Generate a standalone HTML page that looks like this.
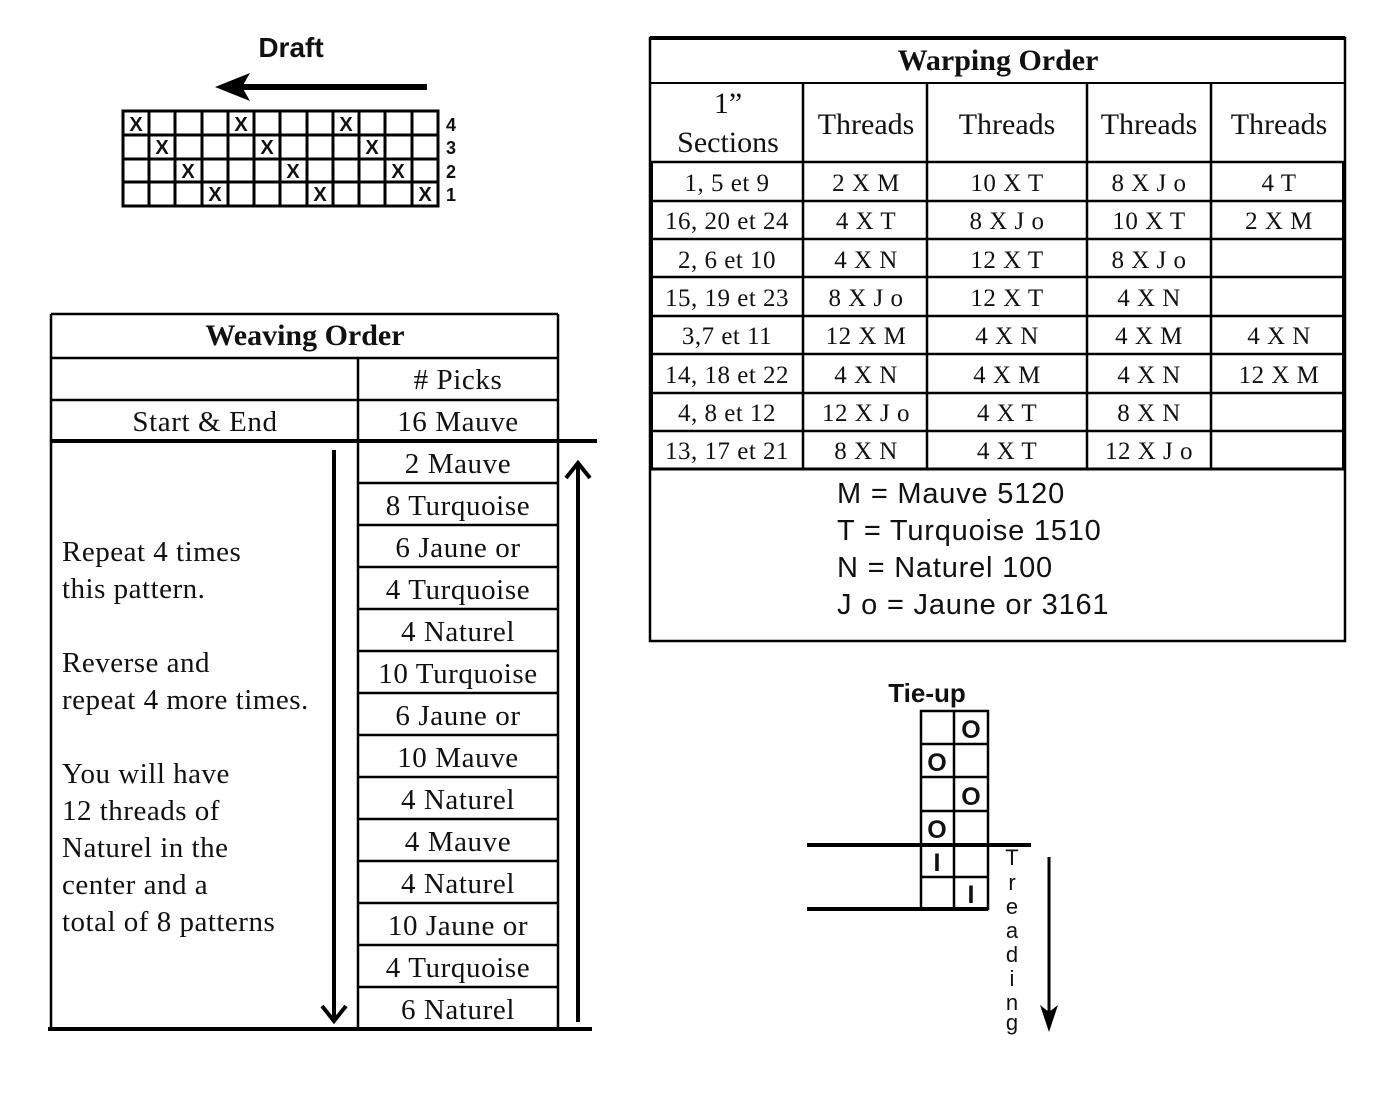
<!DOCTYPE html>
<html><head><meta charset="utf-8"><style>
html,body{margin:0;padding:0;background:#fff;}
svg{display:block}
.s{font-family:"Liberation Serif",serif;fill:#111;}
.a{font-family:"Liberation Sans",sans-serif;fill:#111;}
</style></head><body>
<svg width="1400" height="1109" viewBox="0 0 1400 1109" xmlns="http://www.w3.org/2000/svg">
<rect width="1400" height="1109" fill="#fff"/>
<!-- Draft -->
<text x="291" y="57" class="a" font-size="28" font-weight="bold" text-anchor="middle">Draft</text>
<line x1="427" y1="87" x2="240" y2="87" stroke="#000" stroke-width="6"/>
<polygon points="215,87 250,73 242,87 250,101" fill="#000"/>
<g stroke="#000" stroke-width="3" fill="none">
<rect x="123" y="111" width="315" height="95"/>
<line x1="149" y1="111" x2="149" y2="206"/><line x1="175" y1="111" x2="175" y2="206"/><line x1="202" y1="111" x2="202" y2="206"/><line x1="228" y1="111" x2="228" y2="206"/><line x1="254" y1="111" x2="254" y2="206"/><line x1="280" y1="111" x2="280" y2="206"/><line x1="307" y1="111" x2="307" y2="206"/><line x1="333" y1="111" x2="333" y2="206"/><line x1="359" y1="111" x2="359" y2="206"/><line x1="385" y1="111" x2="385" y2="206"/><line x1="412" y1="111" x2="412" y2="206"/>
<line x1="123" y1="135" x2="438" y2="135"/><line x1="123" y1="159" x2="438" y2="159"/><line x1="123" y1="182" x2="438" y2="182"/>
</g>
<g class="a" font-size="20" font-weight="bold" text-anchor="middle">
<text x="136" y="131">X</text><text x="241" y="131">X</text><text x="346" y="131">X</text>
<text x="162" y="154">X</text><text x="267" y="154">X</text><text x="372" y="154">X</text>
<text x="188" y="178">X</text><text x="293" y="178">X</text><text x="398" y="178">X</text>
<text x="215" y="201">X</text><text x="320" y="201">X</text><text x="425" y="201">X</text>
</g>
<g class="a" font-size="18" font-weight="bold">
<text x="446" y="131">4</text><text x="446" y="154">3</text><text x="446" y="178">2</text><text x="446" y="201">1</text>
</g>

<!-- Warping Order -->
<g stroke="#000" fill="none">
<rect x="650" y="38" width="695" height="603" stroke-width="2.5"/>
<line x1="650" y1="38" x2="1345" y2="38" stroke-width="4"/>
<line x1="650" y1="83" x2="1345" y2="83" stroke-width="2"/>
<g stroke-width="2.5">
<line x1="650" y1="162" x2="1345" y2="162"/><line x1="650" y1="201" x2="1345" y2="201"/><line x1="650" y1="239" x2="1345" y2="239"/><line x1="650" y1="277" x2="1345" y2="277"/><line x1="650" y1="316" x2="1345" y2="316"/><line x1="650" y1="354" x2="1345" y2="354"/><line x1="650" y1="393" x2="1345" y2="393"/><line x1="650" y1="431" x2="1345" y2="431"/><line x1="650" y1="469" x2="1345" y2="469" stroke-width="3"/>
<line x1="803" y1="83" x2="803" y2="469"/><line x1="927" y1="83" x2="927" y2="469"/><line x1="1087" y1="83" x2="1087" y2="469"/><line x1="1211" y1="83" x2="1211" y2="469"/>
<line x1="651" y1="162" x2="651" y2="469" stroke-width="4"/><line x1="1344" y1="162" x2="1344" y2="469" stroke-width="4"/>
</g></g>
<text x="998" y="70" class="s" font-size="30" font-weight="bold" text-anchor="middle">Warping Order</text>
<g class="s" font-size="30" text-anchor="middle">
<text x="728" y="113">1”</text><text x="728" y="152">Sections</text>
<text x="866" y="134">Threads</text><text x="1007" y="134">Threads</text><text x="1149" y="134">Threads</text><text x="1279" y="134">Threads</text>
</g>
<g class="s" font-size="25" text-anchor="middle" letter-spacing="0.5">
<text x="727" y="191">1, 5 et 9</text><text x="866" y="191">2 X M</text><text x="1007" y="191">10 X T</text><text x="1149" y="191">8 X J o</text><text x="1279" y="191">4 T</text>
<text x="727" y="229">16, 20 et 24</text><text x="866" y="229">4 X T</text><text x="1007" y="229">8 X J o</text><text x="1149" y="229">10 X T</text><text x="1279" y="229">2 X M</text>
<text x="727" y="268">2, 6 et 10</text><text x="866" y="268">4 X N</text><text x="1007" y="268">12 X T</text><text x="1149" y="268">8 X J o</text>
<text x="727" y="306">15, 19 et 23</text><text x="866" y="306">8 X J o</text><text x="1007" y="306">12 X T</text><text x="1149" y="306">4 X N</text>
<text x="727" y="344">3,7 et 11</text><text x="866" y="344">12 X M</text><text x="1007" y="344">4 X N</text><text x="1149" y="344">4 X M</text><text x="1279" y="344">4 X N</text>
<text x="727" y="383">14, 18 et 22</text><text x="866" y="383">4 X N</text><text x="1007" y="383">4 X M</text><text x="1149" y="383">4 X N</text><text x="1279" y="383">12 X M</text>
<text x="727" y="421">4, 8 et 12</text><text x="866" y="421">12 X J o</text><text x="1007" y="421">4 X T</text><text x="1149" y="421">8 X N</text>
<text x="727" y="459">13, 17 et 21</text><text x="866" y="459">8 X N</text><text x="1007" y="459">4 X T</text><text x="1149" y="459">12 X J o</text>
</g>
<g class="a" font-size="29" letter-spacing="0.8">
<text x="837" y="503">M = Mauve 5120</text><text x="837" y="540">T = Turquoise 1510</text><text x="837" y="577">N = Naturel 100</text><text x="837" y="614">J o = Jaune or 3161</text>
</g>

<!-- Weaving Order -->
<g stroke="#000" fill="none" stroke-width="2.5">
<line x1="51" y1="314" x2="558" y2="314"/>
<line x1="51" y1="314" x2="51" y2="1029"/><line x1="558" y1="314" x2="558" y2="1029"/>
<line x1="51" y1="358" x2="558" y2="358"/><line x1="51" y1="400" x2="558" y2="400"/>
<line x1="358" y1="358" x2="358" y2="1029"/>
<line x1="51" y1="441" x2="597" y2="441" stroke-width="4"/>
<line x1="48" y1="1029" x2="592" y2="1029" stroke-width="4"/>
<line x1="358" y1="483" x2="558" y2="483"/><line x1="358" y1="525" x2="558" y2="525"/><line x1="358" y1="567" x2="558" y2="567"/><line x1="358" y1="609" x2="558" y2="609"/><line x1="358" y1="651" x2="558" y2="651"/><line x1="358" y1="693" x2="558" y2="693"/><line x1="358" y1="735" x2="558" y2="735"/><line x1="358" y1="777" x2="558" y2="777"/><line x1="358" y1="819" x2="558" y2="819"/><line x1="358" y1="861" x2="558" y2="861"/><line x1="358" y1="903" x2="558" y2="903"/><line x1="358" y1="945" x2="558" y2="945"/><line x1="358" y1="987" x2="558" y2="987"/>
<line x1="334" y1="450" x2="334" y2="1020" stroke-width="4"/>
<polyline points="322,1006 334,1021 346,1006" stroke-width="4"/>
<line x1="578" y1="464" x2="578" y2="1022" stroke-width="4"/>
<polyline points="566,478 578,463 590,478" stroke-width="4"/>
</g>
<text x="305" y="345" class="s" font-size="30" font-weight="bold" text-anchor="middle">Weaving Order</text>
<g class="s" font-size="29" text-anchor="middle" letter-spacing="0.6">
<text x="458" y="389"># Picks</text><text x="205" y="431">Start &amp; End</text><text x="458" y="431">16 Mauve</text>
<text x="458" y="473">2 Mauve</text><text x="458" y="515">8 Turquoise</text><text x="458" y="557">6 Jaune or</text><text x="458" y="599">4 Turquoise</text><text x="458" y="641">4 Naturel</text><text x="458" y="683">10 Turquoise</text><text x="458" y="725">6 Jaune or</text><text x="458" y="767">10 Mauve</text><text x="458" y="809">4 Naturel</text><text x="458" y="851">4 Mauve</text><text x="458" y="893">4 Naturel</text><text x="458" y="935">10 Jaune or</text><text x="458" y="977">4 Turquoise</text><text x="458" y="1019">6 Naturel</text>
</g>
<g class="s" font-size="29" letter-spacing="0.5">
<text x="62" y="561">Repeat 4 times</text><text x="62" y="598">this pattern.</text>
<text x="62" y="672">Reverse and</text><text x="62" y="709">repeat 4 more times.</text>
<text x="62" y="783">You will have</text><text x="62" y="820">12 threads of</text><text x="62" y="857">Naturel in the</text><text x="62" y="894">center and a</text><text x="62" y="931">total of 8 patterns</text>
</g>

<!-- Tie-up -->
<text x="927" y="702" class="a" font-size="26" font-weight="bold" text-anchor="middle">Tie-up</text>
<g stroke="#000" fill="none" stroke-width="2.5">
<rect x="921" y="711" width="67" height="198"/>
<line x1="954" y1="711" x2="954" y2="909"/>
<line x1="921" y1="744" x2="988" y2="744"/><line x1="921" y1="777" x2="988" y2="777"/><line x1="921" y1="811" x2="988" y2="811"/><line x1="921" y1="877" x2="988" y2="877"/>
<line x1="807" y1="845" x2="1031" y2="845" stroke-width="4"/>
<line x1="807" y1="909" x2="988" y2="909" stroke-width="4"/>
<line x1="1049" y1="857" x2="1049" y2="1020" stroke-width="3"/>
</g>
<polygon points="1040,1005 1049,1032 1058,1005 1049,1012" fill="#000"/>
<g class="a" font-size="25" font-weight="bold" text-anchor="middle">
<text x="971" y="738">O</text><text x="937" y="771">O</text><text x="971" y="805">O</text><text x="937" y="838">O</text>
<text x="937" y="871">I</text><text x="971" y="903">I</text>
</g>
<g class="a" font-size="22" text-anchor="middle">
<text x="1012" y="865">T</text><text x="1012" y="890">r</text><text x="1012" y="914">e</text><text x="1012" y="938">a</text><text x="1012" y="962">d</text><text x="1012" y="986">i</text><text x="1012" y="1010">n</text><text x="1012" y="1030">g</text>
</g>
</svg>
</body></html>
